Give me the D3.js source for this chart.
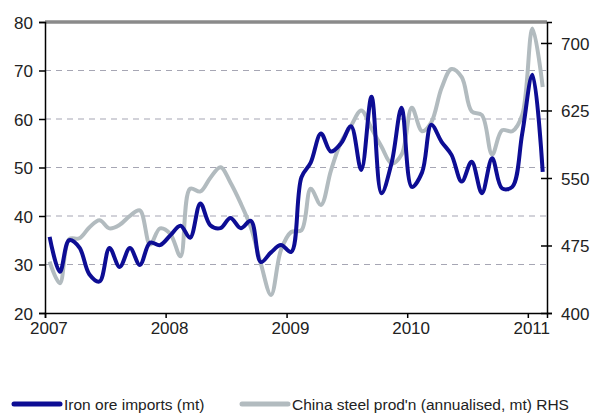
<!DOCTYPE html>
<html>
<head>
<meta charset="utf-8">
<script src="https://cdn.jsdelivr.net/npm/d3@7"></script>
<style>
  html, body { margin: 0; padding: 0; background: #fff; overflow: hidden; }
  svg { display: block; font-family: "Liberation Sans", Arial, sans-serif; }
  .grid line { stroke: #a6a6b4; stroke-width: 1.2; stroke-dasharray: 6 5; }
  .axis path, .axis line { stroke: #000; stroke-width: 1.5; }
  .axis text { font-size: 17px; fill: #222; }
</style>
</head>
<body>
<div class="graph-div"></div>
<script>
var outerWidth = 593;
var outerHeight = 416;
var margin = {left: 45, top: 22, right: 46, bottom: 103};

var innerWidth = outerWidth - margin.left - margin.right;
var innerHeight = outerHeight - margin.top - margin.bottom;

// monthly points, Jan 2007 .. Feb 2011 (mid-month)
var months = d3.timeMonth.range(new Date(2007, 0, 1), new Date(2011, 2, 1))
               .map(function(d) { return new Date(d.getFullYear(), d.getMonth(), 15); });

// Iron ore imports (mt), left axis
var ironOre = [35.7, 28.5, 35, 33.5, 28, 26.5, 33.4, 29.5, 33.4, 29.9,
               34.5, 34, 36, 38, 35.5, 42.6, 38.1, 37.5, 39.6, 37.5,
               39, 30.5, 32.5, 34, 32.6, 48, 51, 57, 53.3, 55,
               58.5, 49.5, 64.6, 44.7, 51, 62.3, 46, 49, 58.8, 55.3,
               52.6, 47.1, 51.2, 44.7, 51.9, 45.7, 46, 57, 69.1, 49.1];

// China steel production (annualised, mt), right axis
var steelProd = [457, 433, 482, 483, 495, 503, 494, 498, 508, 514,
                 476, 494, 488, 463, 538, 535, 550, 562, 545, 522,
                 495, 455, 420, 470, 490, 492, 538, 520, 558, 590,
                 608, 625, 605, 585, 566, 576, 628, 602, 612, 650,
                 671, 662, 624, 620, 576, 603, 602, 620, 716, 651];

var yTicksLeft = [20, 30, 40, 50, 60, 70, 80];
var yTicksRight = [400, 475, 550, 625, 700];
var xTickYears = [2007, 2008, 2009, 2010, 2011];
var legendLabels = ["Iron ore imports (mt)", "China steel prod'n (annualised, mt) RHS"];

var blue = "#0d0d94";
var grey = "#b2bbbf";

var data = months.map(function(d, i) {
  return {time: d, ore: ironOre[i], steel: steelProd[i]};
});

var svg = d3.select(".graph-div").append("svg")
            .attr("width", outerWidth)
            .attr("height", outerHeight);

var g = svg.append("g")
           .attr("transform", "translate(" + margin.left + "," + margin.top + ")");

var xScale = d3.scaleTime()
      .domain([new Date(2007, 0, 1), new Date(2011, 1, 28)])
      .range([0, innerWidth]);

var yLeft = d3.scaleLinear().domain([20, 80]).range([innerHeight, 0]);
// RHS top lines up with 80 on the LHS
var yRight = d3.scaleLinear().domain([400, 723.3]).range([innerHeight, 0]);

// dashed gridlines
g.append("g").attr("class", "grid")
  .selectAll("line")
  .data(yTicksLeft.filter(function(v) { return v > 20 && v < 80; }))
  .enter().append("line")
    .attr("x1", 0).attr("x2", innerWidth)
    .attr("y1", function(d) { return yLeft(d); })
    .attr("y2", function(d) { return yLeft(d); });

// top border
g.append("line")
  .attr("x1", 0).attr("x2", innerWidth)
  .attr("y1", yLeft(80)).attr("y2", yLeft(80))
  .attr("stroke", "#8a8a8a").attr("stroke-width", 3.5);

var lineOre = d3.line()
      .x(function(d) { return xScale(d.time); })
      .y(function(d) { return yLeft(d.ore); })
      .curve(d3.curveCatmullRom.alpha(0.5));

var lineSteel = d3.line()
      .x(function(d) { return xScale(d.time); })
      .y(function(d) { return yRight(d.steel); })
      .curve(d3.curveCatmullRom.alpha(0.5));

g.append("path")
  .attr("d", lineSteel(data))
  .attr("fill", "none").attr("stroke", grey)
  .attr("stroke-width", 4).attr("stroke-linejoin", "round");

g.append("path")
  .attr("d", lineOre(data))
  .attr("fill", "none").attr("stroke", blue)
  .attr("stroke-width", 4).attr("stroke-linejoin", "round");

// axes
const yAxisL = d3.axisLeft(yLeft).tickValues(yTicksLeft).tickSize(6).tickPadding(6);
g.append("g").attr("class", "axis").call(yAxisL)
  .selectAll("text").attr("dy", "0.36em");

const yAxisR = d3.axisRight(yRight).tickValues(yTicksRight).tickSize(5).tickPadding(9);
var rAx = g.append("g").attr("class", "axis")
  .attr("transform", "translate(" + innerWidth + ",0)")
  .call(yAxisR);
rAx.selectAll(".tick line").attr("x1", -6);
rAx.selectAll("text").attr("dy", "0.36em");

const xAxis = d3.axisBottom(xScale)
  .tickValues(xTickYears.map(function(y) { return new Date(y, 0, 1); }))
  .tickFormat(d3.timeFormat("%Y"))
  .tickSize(5).tickPadding(4);
g.append("g").attr("class", "axis")
  .attr("transform", "translate(0," + innerHeight + ")")
  .call(xAxis)
  .selectAll("text").attr("dx", "0.2em");

g.selectAll(".axis .domain").attr("stroke-width", 2);

// legend
var legend = svg.append("g").attr("transform", "translate(0,404)");
var legendX = [12, 240];
[blue, grey].forEach(function(c, i) {
  var lg = legend.append("g").attr("transform", "translate(" + legendX[i] + ",0)");
  lg.append("line").attr("x1", 2).attr("x2", 48).attr("y1", 0).attr("y2", 0)
    .attr("stroke", c).attr("stroke-width", 5).attr("stroke-linecap", "round");
  lg.append("text").attr("x", 52).attr("y", 5.5)
    .attr("font-size", 15.5).attr("fill", "#222")
    .text(legendLabels[i]);
});
</script>
</body>
</html>
